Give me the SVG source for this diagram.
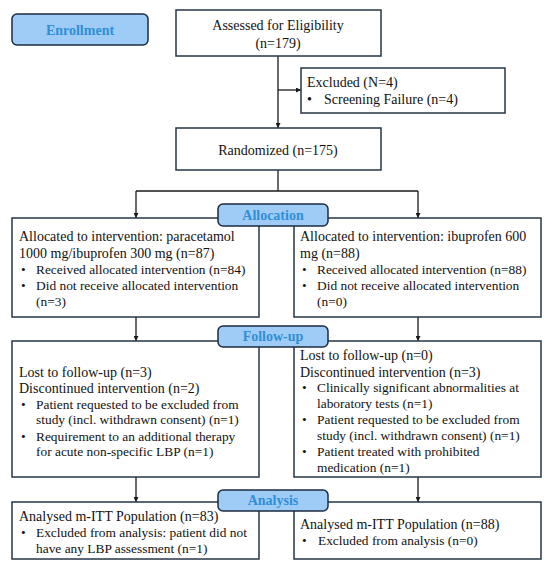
<svg xmlns="http://www.w3.org/2000/svg" width="550" height="570" viewBox="0 0 550 570" font-family="'Liberation Serif', 'Times New Roman', serif">
<defs>
<style>
.box{fill:#ffffff;stroke:#263646;stroke-width:1.5}
.lab{fill:#9fcbf7;stroke:#1c2c40;stroke-width:1.5}
.lt{font-size:14px;font-weight:bold;fill:#2f8fd6;text-anchor:middle}
.t{font-size:14px;fill:#111111}
.s{font-size:13.4px;fill:#111111}
.c{text-anchor:middle}
.ln{fill:none;stroke:#1a1a1a;stroke-width:1.3}
</style>
<marker id="ah" viewBox="0 0 10 10" refX="10" refY="5" markerWidth="5" markerHeight="5" orient="auto" markerUnits="userSpaceOnUse">
<path d="M0,0 L10,5 L0,10 z" fill="#1a1a1a"/>
</marker>
</defs>
<rect width="550" height="570" fill="#ffffff"/>

<g id="connectors">
<line class="ln" x1="278" y1="56" x2="278" y2="128" marker-end="url(#ah)"/>
<line class="ln" x1="278" y1="90" x2="301" y2="90" marker-end="url(#ah)"/>
<polyline class="ln" points="278,170 278,191"/>
<polyline class="ln" points="136,191 418,191"/>
<line class="ln" x1="136" y1="191" x2="136" y2="218" marker-end="url(#ah)"/>
<line class="ln" x1="418" y1="191" x2="418" y2="218" marker-end="url(#ah)"/>
<line class="ln" x1="136" y1="317" x2="136" y2="341" marker-end="url(#ah)"/>
<line class="ln" x1="418" y1="317" x2="418" y2="341" marker-end="url(#ah)"/>
<line class="ln" x1="136" y1="477" x2="136" y2="502" marker-end="url(#ah)"/>
<line class="ln" x1="418" y1="477" x2="418" y2="502" marker-end="url(#ah)"/>
</g>

<g id="enrollment">
<rect class="lab" x="12" y="14" width="136" height="31" rx="5"/>
<text class="lt" x="80" y="35">Enrollment</text>
</g>

<g id="assessed">
<rect class="box" x="176" y="10" width="205" height="46"/>
<text class="t c" x="278" y="30">Assessed for Eligibility</text>
<text class="t c" x="278" y="48">(n=179)</text>
</g>

<g id="excluded">
<rect class="box" x="301" y="68" width="204" height="45"/>
<text class="t" x="307" y="87">Excluded (N=4)</text>
<text class="t" x="307" y="104">•</text>
<text class="t" x="324" y="104">Screening Failure (n=4)</text>
</g>

<g id="randomized">
<rect class="box" x="176" y="128" width="205" height="42"/>
<text class="t c" x="278" y="155">Randomized (n=175)</text>
</g>

<g id="alloc-left">
<rect class="box" x="12" y="218" width="247" height="99"/>
<text class="t" x="19" y="241">Allocated to intervention: paracetamol</text>
<text class="t" x="19" y="258">1000 mg/ibuprofen 300 mg (n=87)</text>
<text class="s" x="21" y="274">•</text>
<text class="s" x="36" y="274">Received allocated intervention (n=84)</text>
<text class="s" x="21" y="290">•</text>
<text class="s" x="36" y="290">Did not receive allocated intervention</text>
<text class="s" x="36" y="306">(n=3)</text>
</g>

<g id="alloc-right">
<rect class="box" x="294" y="218" width="247" height="99"/>
<text class="t" x="300" y="241">Allocated to intervention: ibuprofen 600</text>
<text class="t" x="300" y="258">mg (n=88)</text>
<text class="s" x="302" y="274">•</text>
<text class="s" x="317" y="274">Received allocated intervention (n=88)</text>
<text class="s" x="302" y="290">•</text>
<text class="s" x="317" y="290">Did not receive allocated intervention</text>
<text class="s" x="317" y="306">(n=0)</text>
</g>

<g id="follow-left">
<rect class="box" x="12" y="341" width="247" height="136"/>
<text class="t" x="19" y="377">Lost to follow-up (n=3)</text>
<text class="t" x="19" y="393">Discontinued intervention (n=2)</text>
<text class="s" x="21" y="409">•</text>
<text class="s" x="36" y="409">Patient requested to be excluded from</text>
<text class="s" x="36" y="424">study (incl. withdrawn consent) (n=1)</text>
<text class="s" x="21" y="441">•</text>
<text class="s" x="36" y="441">Requirement to an additional therapy</text>
<text class="s" x="36" y="456">for acute non-specific LBP (n=1)</text>
</g>

<g id="follow-right">
<rect class="box" x="294" y="341" width="247" height="136"/>
<text class="t" x="300" y="360">Lost to follow-up (n=0)</text>
<text class="t" x="300" y="377">Discontinued intervention (n=3)</text>
<text class="s" x="302" y="392">•</text>
<text class="s" x="317" y="392">Clinically significant abnormalities at</text>
<text class="s" x="317" y="408">laboratory tests (n=1)</text>
<text class="s" x="302" y="424">•</text>
<text class="s" x="317" y="424">Patient requested to be excluded from</text>
<text class="s" x="317" y="440">study (incl. withdrawn consent) (n=1)</text>
<text class="s" x="302" y="456">•</text>
<text class="s" x="317" y="456">Patient treated with prohibited</text>
<text class="s" x="317" y="472">medication (n=1)</text>
</g>

<g id="analysis-left">
<rect class="box" x="12" y="502" width="247" height="57"/>
<text class="t" x="19" y="521">Analysed m-ITT Population (n=83)</text>
<text class="s" x="21" y="537">•</text>
<text class="s" x="36" y="537">Excluded from analysis: patient did not</text>
<text class="s" x="36" y="553">have any LBP assessment (n=1)</text>
</g>

<g id="analysis-right">
<rect class="box" x="294" y="502" width="247" height="57"/>
<text class="t" x="300" y="529">Analysed m-ITT Population (n=88)</text>
<text class="s" x="302" y="545">•</text>
<text class="s" x="318" y="545">Excluded from analysis (n=0)</text>
</g>

<g id="label-allocation">
<rect class="lab" x="218" y="204" width="110" height="22" rx="5"/>
<text class="lt" x="273" y="220">Allocation</text>
</g>

<g id="label-followup">
<rect class="lab" x="218" y="326" width="110" height="21" rx="5"/>
<text class="lt" x="273" y="341">Follow-up</text>
</g>

<g id="label-analysis">
<rect class="lab" x="218" y="490" width="110" height="21" rx="5"/>
<text class="lt" x="273" y="505">Analysis</text>
</g>
</svg>
